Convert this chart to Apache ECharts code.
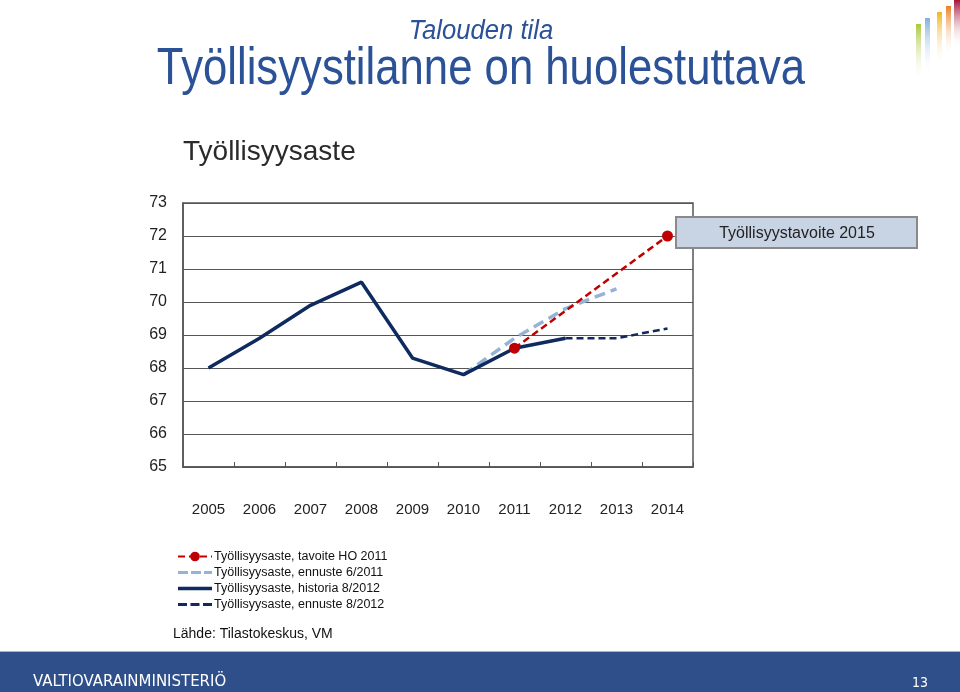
<!DOCTYPE html>
<html><head><meta charset="utf-8">
<script src="https://cdn.jsdelivr.net/npm/echarts@6/dist/echarts.min.js"></script>
<style>html,body{margin:0;padding:0;background:#fff}#c{width:960px;height:692px}</style>
</head><body><div id="c"></div>
<script>
const years = ['2005','2006','2007','2008','2009','2010','2011','2012','2013','2014'];
const yTicks = [65,66,67,68,69,70,71,72,73];
const tavoiteHO2011 = [null,null,null,null,null,null,68.6,null,null,72.0];
const ennuste6_2011 = [null,null,null,null,null,67.8,68.9,69.8,70.4,null];
const historia8_2012 = [68.0,68.9,69.9,70.6,68.3,67.8,68.6,68.9,null,null];
const ennuste8_2012 = [null,null,null,null,null,null,null,68.9,68.9,69.2];
const seriesNames = ['Työllisyysaste, tavoite HO 2011','Työllisyysaste, ennuste 6/2011','Työllisyysaste, historia 8/2012','Työllisyysaste, ennuste 8/2012'];

const chart = echarts.init(document.getElementById('c'));
const navy = '#0e2a5e', lblue = '#95b3d7', red = '#c00000';
const barGrad = (c) => new echarts.graphic.LinearGradient(0,0,0,1,[{offset:0,color:c},{offset:1,color:'rgba(255,255,255,0)'}]);
const dashIcon = 'path://M0,0h9v3h-9z M12.5,0h9v3h-9z M25,0h9v3h-9z';
const longDashIcon = 'path://M0,0h10v3h-10z M13,0h10v3h-10z M26,0h8v3h-8z';
const solidIcon = 'path://M0,0h34v3.5h-34z';
chart.setOption({
  animation:false,
  backgroundColor:'#fff',
  grid:{left:183,right:267,top:203,bottom:225,show:true,borderColor:'#555',borderWidth:1.5},
  xAxis:{type:'category',data:years,boundaryGap:true,
    axisLine:{lineStyle:{color:'#555',width:1.5}},
    axisTick:{show:true,inside:true,length:5,lineStyle:{color:'#555'}},
    axisLabel:{color:'#222',fontSize:15,fontFamily:'Liberation Sans',margin:35}},
  yAxis:{type:'value',min:yTicks[0],max:yTicks[yTicks.length-1],interval:1,
    axisLine:{show:true,lineStyle:{color:'#555',width:1.5}},axisTick:{show:false},
    splitLine:{lineStyle:{color:'#555',width:1.2}},
    axisLabel:{color:'#222',fontSize:16,fontFamily:'Liberation Sans',margin:16}},
  legend:{orient:'vertical',left:172,top:545,itemGap:3,itemWidth:34,itemHeight:12,
    data:[
      {name:seriesNames[0]},
      {name:seriesNames[1],icon:longDashIcon},
      {name:seriesNames[2],icon:solidIcon},
      {name:seriesNames[3],icon:dashIcon}
    ],
    textStyle:{fontSize:12.5,color:'#111',fontFamily:'Liberation Sans',padding:[0,0,0,-3]}},
  series:[
    {name:seriesNames[1],type:'line',data:ennuste6_2011,symbol:'none',z:2,
      lineStyle:{color:lblue,width:3.5,type:[11,6]},itemStyle:{color:lblue}},
    {name:seriesNames[2],type:'line',data:historia8_2012,symbol:'none',z:3,
      lineStyle:{color:navy,width:3.5},itemStyle:{color:navy}},
    {name:seriesNames[3],type:'line',data:ennuste8_2012,symbol:'none',z:3,
      lineStyle:{color:navy,width:2.5,type:[7,4]},itemStyle:{color:navy}},
    {name:seriesNames[0],type:'line',data:tavoiteHO2011,connectNulls:true,symbol:'circle',symbolSize:11,showSymbol:true,z:4,
      lineStyle:{color:red,width:2.5,type:[7,4]},itemStyle:{color:red}}
  ],
  graphic:[
    {type:'text',x:481,y:18,scaleX:0.95,style:{text:'Talouden tila',font:'italic 27px "Liberation Sans"',fill:'#2b5197',align:'center',verticalAlign:'top'}},
    {type:'text',x:481,y:44,scaleX:0.84,style:{text:'Työllisyystilanne on huolestuttava',font:'52px "Liberation Sans"',fill:'#2b5197',align:'center',verticalAlign:'top'}},
    {type:'text',left:183,top:138,style:{text:'Työllisyysaste',font:'28px "Liberation Sans"',fill:'#2a2a2a'}},
    {type:'rect',shape:{x:676,y:217,width:241,height:31},style:{fill:'#c8d3e4',stroke:'#8a8a8a',lineWidth:2},z:10},
    {type:'text',x:797,y:234,z:11,style:{text:'Työllisyystavoite 2015',font:'16px "Liberation Sans"',fill:'#222',align:'center',verticalAlign:'middle'}},
    {type:'text',left:173,top:627,style:{text:'Lähde: Tilastokeskus, VM',font:'14px "Liberation Sans"',fill:'#111'}},
    {type:'rect',shape:{x:0,y:651,width:960,height:1},style:{fill:'#9fb3d3'}},
    {type:'rect',shape:{x:0,y:652,width:960,height:40},style:{fill:'#2f4f8b'}},
    {type:'text',x:33,y:682,scaleX:1.11,style:{text:'VALTIOVARAINMINISTERIÖ',font:'15px "DejaVu Sans Condensed", "Liberation Sans"',fill:'#fff',verticalAlign:'middle'}},
    {type:'text',x:912,y:683,style:{text:'13',font:'14px "DejaVu Sans Condensed", "Liberation Sans"',fill:'#fff',verticalAlign:'middle'}},
    {type:'rect',shape:{x:916,y:24,width:5,height:58},style:{fill:barGrad('#a9c93a')}},
    {type:'rect',shape:{x:925,y:18,width:5,height:56},style:{fill:barGrad('#7fb0df')}},
    {type:'rect',shape:{x:937,y:12,width:5,height:54},style:{fill:barGrad('#f2b51c')}},
    {type:'rect',shape:{x:946,y:6,width:5,height:50},style:{fill:barGrad('#ee7d23')}},
    {type:'rect',shape:{x:954,y:0,width:6,height:48},style:{fill:barGrad('#a6133a')}}
  ]
});
</script></body></html>
